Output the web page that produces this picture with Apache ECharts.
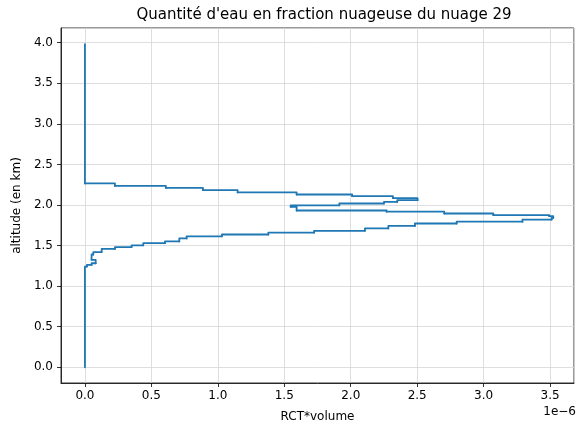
<!DOCTYPE html>
<html>
<head>
<meta charset="utf-8">
<script src="https://cdn.jsdelivr.net/npm/echarts@6/dist/echarts.min.js"></script>
<style>
  html, body { margin: 0; padding: 0; background: #fff; }
  #chart { width: 582px; height: 428px; }
</style>
</head>
<body>
<div id="chart"></div>
<script>
// Cloud water (RCT*volume, in units of 1e-6) per altitude level (km).
// Each horizontal run sits at altitudeKm[i] and ends at rctVolume[i].
const altitudeKm = [
  0.000, 1.241, 1.262, 1.282, 1.324, 1.390, 1.420, 1.458, 1.481, 1.503,
  1.529, 1.551, 1.588, 1.614, 1.636, 1.659, 1.681, 1.711, 1.742, 1.772,
  1.794, 1.820, 1.841, 1.862, 1.874, 1.895, 1.917, 1.932, 1.978, 1.996,
  2.018, 2.038, 2.059, 2.084, 2.108, 2.129, 2.154, 2.182, 2.210, 2.235,
  2.265, 3.980
];
const rctVolume = [
  0.000, 0.015, 0.050, 0.081, 0.050, 0.063, 0.126, 0.226, 0.351, 0.439,
  0.602, 0.710, 0.765, 1.031, 1.380, 1.724, 2.107, 2.283, 2.483, 2.797,
  3.292, 3.512, 3.524, 3.494, 3.073, 2.704, 2.270, 1.593, 1.548, 1.914,
  2.250, 2.350, 2.503, 2.318, 2.011, 1.593, 1.149, 0.888, 0.609, 0.226,
  0.000, 0.000
];
const titleText = "Quantité d'eau en fraction nuageuse du nuage 29";
const xLabel = 'RCT*volume';
const yLabel = 'altitude (en km)';
const xOffsetText = '1e\u22126';

// One stair per level: climb at the previous value, then run across at the new level.
const stairs = [];
for (let i = 1; i < rctVolume.length; i++) {
  stairs.push([rctVolume[i - 1], altitudeKm[i - 1], rctVolume[i], altitudeKm[i]]);
}

const FONT = 'DejaVu Sans';
const LINE_COLOR = '#1f77b4';
const chart = echarts.init(document.getElementById('chart'), null, { renderer: 'canvas' });

const axisCommon = {
  type: 'value',
  minInterval: 0.5,
  maxInterval: 0.5,
  axisLine: { show: true, onZero: false, lineStyle: { color: '#000', width: 0.8 } },
  axisTick: { show: true, inside: false, length: 4, lineStyle: { color: '#000', width: 0.8 } },
  splitLine: { show: true, lineStyle: { color: '#d6d6d6', width: 0.8 } },
  axisLabel: {
    color: '#000', fontFamily: FONT, fontSize: 12,
    showMinLabel: false, showMaxLabel: false,
    formatter: v => v.toFixed(1)
  },
  nameTextStyle: { color: '#000', fontFamily: FONT, fontSize: 12 }
};

function renderStair(params, api) {
  const x0 = api.value(0), z0 = api.value(1), x1 = api.value(2), z1 = api.value(3);
  const a = api.coord([x0, z0]);
  const b = api.coord([x0, z1]);
  const c = api.coord([x1, z1]);
  return {
    type: 'polyline',
    shape: { points: [a, b, c] },
    style: { stroke: LINE_COLOR, lineWidth: 1.8, fill: null, lineJoin: 'round', lineCap: 'round' }
  };
}

chart.setOption({
  animation: false,
  backgroundColor: '#fff',
  title: {
    text: titleText,
    left: 319, top: 3, textAlign: 'center',
    textStyle: { color: '#000', fontFamily: FONT, fontSize: 15, fontWeight: 'normal' }
  },
  grid: {
    left: 61, right: 8, top: 28, bottom: 45,
    show: true, borderColor: '#000', borderWidth: 0.8, backgroundColor: 'transparent'
  },
  xAxis: Object.assign({}, axisCommon, {
    min: -0.18, max: 3.68,
    name: xLabel, nameLocation: 'middle', nameGap: 28,
    axisLabel: Object.assign({}, axisCommon.axisLabel, { margin: 7 })
  }),
  yAxis: Object.assign({}, axisCommon, {
    min: -0.193, max: 4.18,
    name: yLabel, nameLocation: 'middle', nameGap: 33,
    axisLabel: Object.assign({}, axisCommon.axisLabel, { margin: 8 })
  }),
  graphic: [{
    type: 'text',
    right: 6, top: 406,
    style: { text: xOffsetText, fill: '#000', font: '12px "DejaVu Sans"' }
  }],
  series: [{
    type: 'custom',
    renderItem: renderStair,
    data: stairs,
    encode: { x: [0, 2], y: [1, 3] },
    clip: true
  }]
});
</script>
</body>
</html>
